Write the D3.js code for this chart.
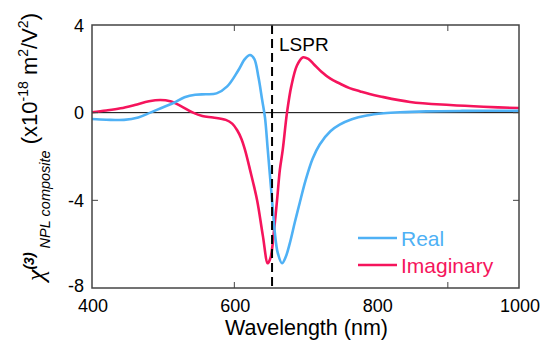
<!DOCTYPE html>
<html><head><meta charset="utf-8">
<script src="https://cdn.jsdelivr.net/npm/d3@7"></script>
<style>body{margin:0;background:#fff;} text{font-family:Arial,"Liberation Sans",sans-serif;}</style>
</head><body><svg id="c" width="544" height="341"></svg>
<script>
const realWl  = [400,420,445,465,482,500,515,530,545,560,575,590,605,615,622,628,634,639,643,647,653,657,661,667,672,678,685,692,700,710,720,735,748,765,786,810,833,870,920,1000];
const realVal = [-0.29,-0.32,-0.33,-0.22,0,0.25,0.45,0.7,0.82,0.84,0.88,1.2,1.9,2.45,2.63,2.45,1.6,0.6,-0.2,-1.7,-4.0,-5.5,-6.4,-6.87,-6.6,-5.95,-5.0,-4.1,-3.1,-2.1,-1.45,-0.85,-0.55,-0.3,-0.13,-0.03,0.02,0.06,0.08,0.09];
const imagWl  = [400,420,440,460,480,496,510,525,542,555,570,588,597,604,610,615,622,632,640,647,651,656,660,664,668,674,680,688,696,704,712,722,735,748,762,777,790,805,847,903,950,1000];
const imagVal = [0.02,0.1,0.2,0.35,0.52,0.58,0.52,0.3,0.0,-0.15,-0.22,-0.33,-0.5,-0.8,-1.2,-1.7,-2.6,-4.0,-5.6,-6.87,-6.6,-5.3,-4.0,-2.6,-1.7,0,1.2,2.15,2.52,2.45,2.2,1.88,1.55,1.33,1.12,0.97,0.85,0.74,0.49,0.35,0.27,0.21];
const xTickLabels = [400,600,800,1000];
const xTickMarks = [600,900];
const yTickLabels = [4,0,-4,-8];
const yTickMarks = [0,-4];
const lspr = 653;
const seriesNames = ["Real","Imaginary"];
const colors = ["#4fb1f5","#f5145c"];

const svg = d3.select("#c");
const L=92,R=519,T=25,B=288;
const x = d3.scaleLinear().domain([400,1000]).range([L,R]);
const y = d3.scaleLinear().domain([-8,4]).range([B,T]);

svg.append("line").attr("x1",L).attr("x2",R).attr("y1",y(0)).attr("y2",y(0)).attr("stroke","#000").attr("stroke-width",1);

const line = d3.line().x(d=>x(d[0])).y(d=>y(d[1])).curve(d3.curveCatmullRom.alpha(0.5));
const realData = realWl.map((w,i)=>[w,realVal[i]]);
const imagData = imagWl.map((w,i)=>[w,imagVal[i]]);
svg.append("path").attr("d",line(imagData)).attr("fill","none").attr("stroke",colors[1]).attr("stroke-width",2.6);
svg.append("path").attr("d",line(realData)).attr("fill","none").attr("stroke",colors[0]).attr("stroke-width",2.6);

svg.append("line").attr("x1",x(lspr)).attr("x2",x(lspr)).attr("y1",T).attr("y2",B)
  .attr("stroke","#000").attr("stroke-width",2).attr("stroke-dasharray","9,5");
svg.append("text").attr("x",x(lspr)+7).attr("y",51).attr("font-size",19).text("LSPR");

svg.append("rect").attr("x",L).attr("y",T).attr("width",R-L).attr("height",B-T).attr("fill","none").attr("stroke","#444").attr("stroke-width",1.5);

const tl=6;
xTickMarks.forEach(v=>{
  svg.append("line").attr("x1",x(v)).attr("x2",x(v)).attr("y1",B).attr("y2",B-tl).attr("stroke","#444");
  svg.append("line").attr("x1",x(v)).attr("x2",x(v)).attr("y1",T).attr("y2",T+tl).attr("stroke","#444");
});
yTickMarks.forEach(v=>{
  svg.append("line").attr("x1",L).attr("x2",L+tl).attr("y1",y(v)).attr("y2",y(v)).attr("stroke","#444");
  svg.append("line").attr("x1",R).attr("x2",R-tl).attr("y1",y(v)).attr("y2",y(v)).attr("stroke","#444");
});
xTickLabels.forEach(v=>{
  svg.append("text").attr("x",x(v)+1).attr("y",312).attr("text-anchor","middle").attr("font-size",18).text(v);
});
yTickLabels.forEach(v=>{
  svg.append("text").attr("x",84).attr("y",Math.min(y(v)+6.5,291.5)).attr("text-anchor","end").attr("font-size",18).text(v);
});
svg.append("text").attr("x",(L+R)/2+1).attr("y",335).attr("text-anchor","middle").attr("font-size",21.5).text("Wavelength (nm)");

const yt = svg.append("text").attr("transform","rotate(-90)").attr("x",-147).attr("y",37).attr("text-anchor","middle").attr("font-size",22);
yt.append("tspan").attr("dy",7).attr("font-size",26).attr("font-style","italic").attr("font-family","'Liberation Serif',serif").text("χ");
yt.append("tspan").attr("dy",-10).attr("font-size",14).attr("font-style","italic").attr("font-weight","bold").text("(3)");
yt.append("tspan").attr("dy",16).attr("font-size",14.5).attr("font-style","italic").text(" NPL composite");
yt.append("tspan").attr("dy",-13).text(" (x10");
yt.append("tspan").attr("dy",-9).attr("font-size",14).text("-18");
yt.append("tspan").attr("dy",9).text(" m");
yt.append("tspan").attr("dy",-9).attr("font-size",14).text("2");
yt.append("tspan").attr("dy",9).text("/V");
yt.append("tspan").attr("dy",-9).attr("font-size",14).text("2");
yt.append("tspan").attr("dy",9).text(")");

const lg=[{n:seriesNames[0],c:colors[0],y:238},{n:seriesNames[1],c:colors[1],y:265}];
lg.forEach(d=>{
  svg.append("line").attr("x1",358).attr("x2",397).attr("y1",d.y).attr("y2",d.y).attr("stroke",d.c).attr("stroke-width",2.6);
  svg.append("text").attr("x",401).attr("y",d.y+8).attr("font-size",21).attr("fill",d.c).text(d.n);
});
</script></body></html>
